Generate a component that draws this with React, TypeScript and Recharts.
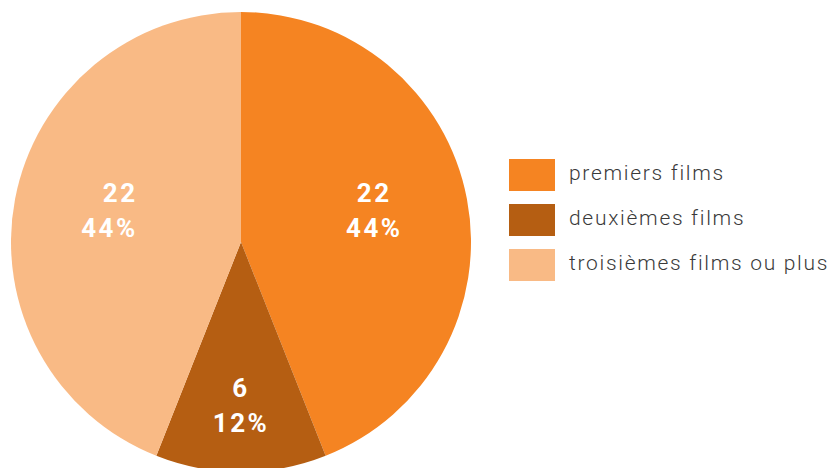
import { PieChart, Pie, Cell, Legend } from 'recharts';

const categories = ['premiers films', 'deuxièmes films', 'troisièmes films ou plus'];
const counts = [22, 6, 22];
const colors = ['#F58422', '#B55E12', '#F9BA85'];

const data = categories.map((name, i) => ({ name, value: counts[i] }));

const RADIAN = Math.PI / 180;

// étiquette en deux lignes : valeur puis pourcentage
function renderLabel(props: any) {
  const { cx, cy, midAngle, outerRadius, percent, value } = props;
  const r = outerRadius * (percent < 0.2 ? 0.74 : 0.59);
  const x = cx + r * Math.cos(-midAngle * RADIAN);
  const y = cy + r * Math.sin(-midAngle * RADIAN);
  const left = x < cx - 20;
  const anchor = left ? 'end' : 'middle';
  const tx = left ? x + 30 : x;
  return (
    <text
      x={tx}
      y={y}
      fill="#fff"
      textAnchor={anchor}
      fontFamily="Roboto, sans-serif"
      fontWeight={700}
      fontSize={26}
      letterSpacing={2.5}
    >
      <tspan x={tx} dy={-15}>{value}</tspan>
      <tspan x={tx} dy={35}>{`${Math.round(percent * 100)}%`}</tspan>
    </text>
  );
}

function LegendBox() {
  return (
    <div style={{ fontFamily: 'Roboto, sans-serif' }}>
      {data.map((d, i) => (
        <div key={d.name} style={{ display: 'flex', alignItems: 'center', height: 32, marginBottom: 13 }}>
          <div style={{ width: 46, height: 32, background: colors[i], marginRight: 14 }} />
          <span
            style={{
              fontSize: 21,
              color: '#3a3a3a',
              fontWeight: 300,
              letterSpacing: 1.7,
              whiteSpace: 'nowrap',
              position: 'relative',
              top: -2,
            }}
          >
            {d.name}
          </span>
        </div>
      ))}
    </div>
  );
}

export default function App() {
  return (
    <div style={{ width: 833, height: 468, overflow: 'hidden', background: '#fff' }}>
      <style>{'body{margin:0}'}</style>
      <PieChart width={833} height={468} margin={{ top: 0, right: 0, bottom: 0, left: 0 }}>
        <Pie
          data={data}
          dataKey="value"
          nameKey="name"
          cx={241}
          cy={242}
          outerRadius={230}
          startAngle={90}
          endAngle={-270}
          stroke="none"
          labelLine={false}
          label={renderLabel}
          isAnimationActive={false}
        >
          {data.map((d, i) => (
            <Cell key={d.name} fill={colors[i]} />
          ))}
        </Pie>
        <Legend content={<LegendBox />} wrapperStyle={{ left: 509, top: 159, width: 324 }} />
      </PieChart>
    </div>
  );
}
